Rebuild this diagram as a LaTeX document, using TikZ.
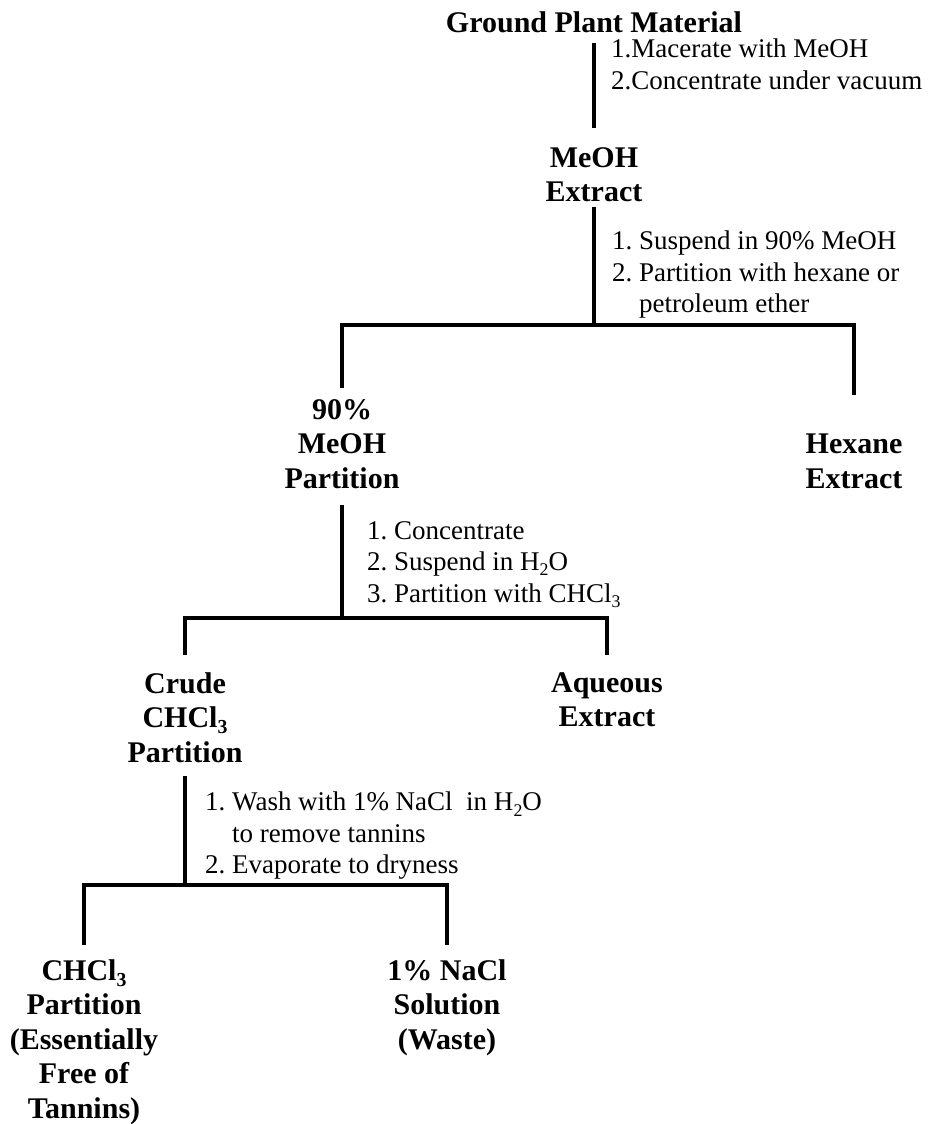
\documentclass[tikz,border=0pt]{standalone}
\usepackage{fontspec}
\usepackage{graphicx}
\setmainfont{Liberation Serif}
% chemical subscript in the current font
\newcommand\subs[1]{\raisebox{-0.2em}{\scalebox{0.66}{#1}}}
\begin{document}
\frenchspacing
\begin{tikzpicture}[x=1pt,y=-1pt,
  product/.style={font=\fontsize{30}{34.5}\selectfont\bfseries, align=center, anchor=north, inner sep=0pt},
  steps/.style={font=\fontsize{27}{31.5}\selectfont, align=left, anchor=north west, inner sep=0pt},
  conn/.style={line width=3.8pt, line join=miter}]
\useasboundingbox (0,0) rectangle (938,1124);

% products of each stage
\node[product] (ground) at (594,11)  {Ground Plant Material};
\node[product] (meoh)   at (594,147) {MeOH\\Extract};
\node[product] (p90)    at (342,399) {90\%\\MeOH\\Partition};
\node[product] (hex)    at (854,434) {Hexane\\Extract};
\node[product] (crude)  at (185,672) {Crude\\CHCl\subs{3}\\Partition};
\node[product] (aq)     at (607,672) {Aqueous\\Extract};
\node[product] (chcl)   at (84,959)  {CHCl\subs{3}\\Partition\\(Essentially\\Free of\\Tannins)};
\node[product] (nacl)   at (447,959) {1\% NaCl\\Solution\\(Waste)};

% procedure notes beside the stems
\node[steps] (s1) at (611,39)  {1.Macerate with MeOH\\2.Concentrate under vacuum};
\node[steps] (s2) at (612,231) {1. Suspend in 90\% MeOH\\2. Partition with hexane or\\\phantom{2. }petroleum ether};
\node[steps] (s3) at (367,521) {1. Concentrate\\2. Suspend in H\subs{2}O\\3. Partition with CHCl\subs{3}};
\node[steps] (s4) at (205,792) {1. Wash with 1\% NaCl\ \ in H\subs{2}O\\\phantom{1. }to remove tannins\\2. Evaporate to dryness};

% branch points
\coordinate (b1) at (594,325);
\coordinate (b2) at (342,618);
\coordinate (b3) at (185,885);

% stems and branches
\draw[conn] ([yshift=-10pt]ground.south) -- ([yshift=19pt]meoh.north);
\draw[conn] ([yshift=-5pt]meoh.south) -- (b1);
\draw[conn] ([yshift=11pt]p90.north) |- (b1) -| ([yshift=39pt]hex.north);
\draw[conn] ([yshift=-16pt]p90.south) -- (b2);
\draw[conn] ([yshift=17pt]crude.north) |- (b2) -| ([yshift=17pt]aq.north);
\draw[conn] ([yshift=-13pt]crude.south) -- (b3);
\draw[conn] ([yshift=14pt]chcl.north) |- (b3) -| ([yshift=14pt]nacl.north);
\end{tikzpicture}
\end{document}
